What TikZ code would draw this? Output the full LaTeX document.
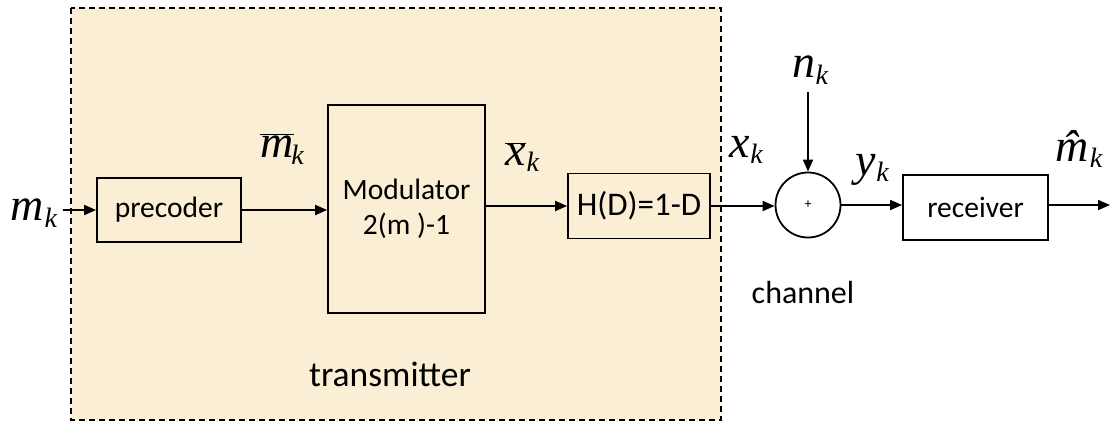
\documentclass[tikz,border=0pt]{standalone}
\usepackage{fontspec}
\setmainfont{Liberation Serif}
\setsansfont{Carlito}
\usetikzlibrary{arrows.meta}
\definecolor{parch}{HTML}{FAEFD4}
\newcommand{\subk}{\raisebox{-0.3ex}{\fontsize{28}{30}\selectfont\rmfamily\itshape k}}
\newcommand{\mvar}[1]{{\rmfamily\itshape #1\kern0.5pt\subk}}
\begin{document}
\begin{tikzpicture}[x=1pt,y=-1pt,
  blk/.style={draw=black,line width=1.8pt,inner sep=0pt},
  txt/.style={font=\sffamily\fontsize{29.5}{35}\selectfont},
  lbl/.style={font=\rmfamily\itshape\fontsize{46}{48}\selectfont,inner sep=0pt},
  arr/.style={line width=1.8pt,-{Triangle[length=12pt,width=10pt]}}]
\useasboundingbox (0,0) rectangle (1110,426);
\fill[parch] (71,8) rectangle (721,420);
\draw[dashed,line width=1.6pt,dash pattern=on 6pt off 4pt] (71,8) rectangle (721,420);
\node[blk,minimum width=144pt,minimum height=64pt,txt] (pre) at (169,210) {precoder};
\node[blk,minimum width=157pt,minimum height=208pt,txt,align=center] (mod) at (406.5,209) {Modulator\\2(m )-1};
\node[blk,minimum width=142pt,minimum height=65pt,font=\sffamily\fontsize{33}{38}\selectfont] (h) at (639,206) {H(D)=1-D};
\node[draw,circle,line width=1.8pt,minimum size=65pt,inner sep=0pt,font=\sffamily\fontsize{14}{16}\selectfont] (sum) at (808,205) {+};
\node[blk,minimum width=145pt,minimum height=65pt,txt] (rec) at (975.5,207.5) {receiver};
\coordinate (in) at (63,210);
\coordinate (out) at (1110,205);
\coordinate (ntop) at (808,92);
\node[lbl] (mk) at (34,213) {\mvar{m}};
\node[lbl] (mbar) at (282,149) {$\overline{\hbox{\rmfamily\itshape m\kern1pt}}$\kern-3pt\subk};
\node[lbl] (xbar) at (522,157) {$\overline{\hbox{\rmfamily\itshape x}}$\kern1pt\subk};
\node[lbl] (xk) at (746,150) {\mvar{x}};
\node[lbl] (nk) at (810,70) {\mvar{n}};
\node[lbl] (yk) at (872,170) {\mvar{y}};
\node[lbl] (mhat) at (1079,149) {\^{m}\kern1pt\subk};
\node[font=\sffamily\fontsize{32}{36}\selectfont] (chan) at (803,293) {channel};
\node[font=\sffamily\fontsize{35.5}{40}\selectfont] (tx) at (390,374) {transmitter};
\draw[arr] (in) -- (pre.west);
\draw[arr] (pre.east) -- (pre.east -| mod.west);
\draw[arr] (mod.east |- h.west) -- (h.west);
\draw[arr] (h.east) -- (h.east -| sum.west);
\draw[arr] (ntop) -- (sum.north);
\draw[arr] (sum.east) -- (sum.east -| rec.west);
\draw[arr] (rec.east |- out) -- (out);
\end{tikzpicture}
\end{document}
